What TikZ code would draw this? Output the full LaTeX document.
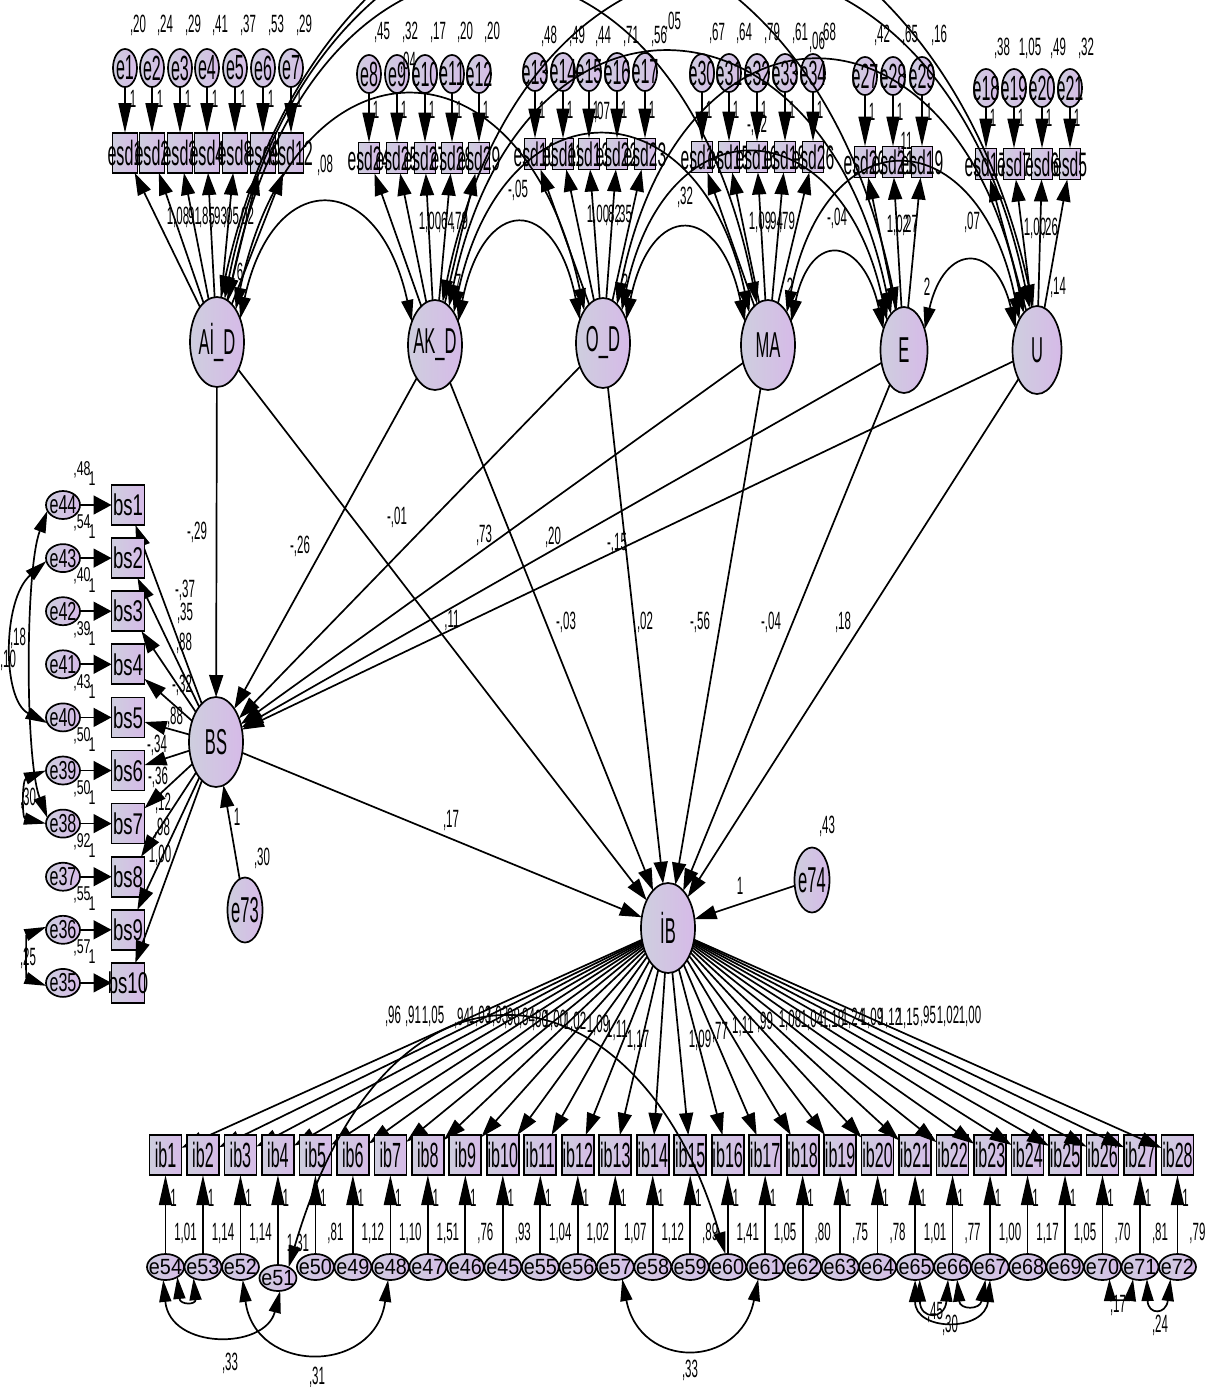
\documentclass[tikz,border=0pt]{standalone}
\usepackage{fontspec}
\usetikzlibrary{shapes.geometric,arrows.meta}
\newfontfamily\fa[FakeStretch=0.46]{Liberation Sans}
\newfontfamily\fb[FakeStretch=0.62]{Liberation Sans}
\newfontfamily\fc[FakeStretch=0.9]{Liberation Sans}
\newcommand\zb[1]{\makebox[0pt]{#1}}
\definecolor{nfl}{RGB}{206,206,222}
\definecolor{nfr}{RGB}{214,186,232}
\tikzset{
 base/.style={draw=black,line width=1.7pt,left color=nfl,right color=nfr,inner sep=0pt,outer sep=0pt},
 lat/.style={base,ellipse,minimum width=54pt,minimum height=90pt,font=\fa\fontsize{36}{36}\selectfont},
 etop/.style={base,ellipse,minimum width=24pt,minimum height=38pt,font=\fa\fontsize{35}{35}\selectfont},
 ebig/.style={base,ellipse,minimum width=35pt,minimum height=65pt,font=\fa\fontsize{36}{36}\selectfont},
 esdA/.style={base,rectangle,minimum width=25pt,minimum height=40pt,font=\fa\fontsize{35}{35}\selectfont},
 esdB/.style={base,rectangle,minimum width=21pt,minimum height=31pt,font=\fa\fontsize{34}{34}\selectfont},
 bsbox/.style={base,rectangle,minimum width=33pt,minimum height=40pt,font=\fb\fontsize{30}{30}\selectfont},
 ebs/.style={base,ellipse,minimum width=34pt,minimum height=28pt,font=\fb\fontsize{26}{26}\selectfont},
 ibbox/.style={base,rectangle,minimum width=32pt,minimum height=40pt,font=\fa\fontsize{35}{35}\selectfont},
 ebot/.style={base,ellipse,minimum width=37pt,minimum height=26pt,font=\fc\fontsize{22}{22}\selectfont},
 num/.style={inner sep=0pt,font=\fa\fontsize{25}{25}\selectfont},
 numb/.style={inner sep=0pt,font=\fb\fontsize{20}{20}\selectfont},
 ln/.style={line width=1.7pt},
 arr/.style={ln,-{Triangle[length=22pt,width=14pt]}},
 arrv/.style={ln,-{Triangle[length=30pt,width=13pt]}},
 arrh/.style={ln,-{Triangle[length=18pt,width=19pt]}},
 cov/.style={ln,{Triangle[length=22pt,width=12pt]}-{Triangle[length=22pt,width=12pt]}},
}
\begin{document}
\begin{tikzpicture}[x=1pt,y=-1pt]
\useasboundingbox (0,0) rectangle (1210,1387);
% ---------- latent variables
\node[lat] (AI) at (217,342) {\zb{Aİ\_D}};
\node[lat] (AK) at (435,345) {\zb{AK\_D}};
\node[lat] (OD) at (603,343) {\zb{O\_D}};
\node[lat] (MA) at (768,345) {\zb{MA}};
\node[lat,minimum width=47pt,minimum height=86pt] (E) at (904,350) {\zb{E}};
\node[lat,minimum width=49pt,minimum height=88pt] (U) at (1037,350) {\zb{U}};
\node[lat] (BS) at (216,742) {\zb{BS}};
\node[lat] (IB) at (668,928) {\zb{İB}};
\node[ebig] (e73) at (245,910) {\zb{e73}};
\node[ebig] (e74) at (812,880) {\zb{e74}};
% ---------- top indicators
\foreach \i/\x/\v/\nm in {1/125/{,20}/esd1,2/152/{,24}/esd2,3/180/{,29}/esd3,4/207/{,41}/esd4,5/235/{,37}/esd8,6/263/{,53}/esd9,7/291/{,29}/esd12}{
  \node[etop] (e\i) at (\x,68) {\zb{e\i}};
  \node[esdA] (s\i) at (\x,153) {\zb{\nm}};
  \draw[arrv] (e\i) -- (s\i);
  \draw[arr] (AI) -- (s\i);
  \node[num] at (\x+13,25) {\v};
  \node[num] at (\x+8,99) {1};
}
\foreach \i/\x/\v/\nm in {8/369/{,45}/esd24,9/397/{,32}/esd25,10/425/{,17}/esd27,11/452/{,20}/esd28,12/479/{,20}/esd29}{
  \node[etop] (e\i) at (\x,74) {\zb{e\i}};
  \node[esdB] (s\i) at (\x,158) {\zb{\nm}};
  \draw[arrv] (e\i) -- (s\i);
  \draw[arr] (AK) -- (s\i);
  \node[num] at (\x+13,32) {\v};
  \node[num] at (\x+7,110) {1};
}
\foreach \i/\x/\v/\nm in {13/535/{,48}/esd10,14/563/{,49}/esd11,15/589/{,44}/esd13,16/617/{,71}/esd22,17/645/{,56}/esd23}{
  \node[etop] (e\i) at (\x,72) {\zb{e\i}};
  \node[esdB] (s\i) at (\x,154) {\zb{\nm}};
  \draw[arrv] (e\i) -- (s\i);
  \draw[arr] (OD) -- (s\i);
  \node[num] at (\x+14,36) {\v};
  \node[num] at (\x+7,110) {1};
}
\foreach \i/\x/\v/\nm in {30/702/{,67}/esd14,31/729/{,64}/esd15,32/757/{,79}/esd16,33/785/{,61}/esd18,34/813/{,68}/esd26}{
  \node[etop] (e\i) at (\x,73) {\zb{e\i}};
  \node[esdB] (s\i) at (\x,157) {\zb{\nm}};
  \draw[arrv] (e\i) -- (s\i);
  \draw[arr] (MA) -- (s\i);
  \node[num] at (\x+15,33) {\v};
  \node[num] at (\x+7,110) {1};
}
\foreach \i/\x/\v/\nm in {27/865/{,42}/esd20,28/893/{,65}/esd21,29/922/{,16}/esd19}{
  \node[etop] (e\i) at (\x,76) {\zb{e\i}};
  \node[esdB] (s\i) at (\x,162) {\zb{\nm}};
  \draw[arrv] (e\i) -- (s\i);
  \draw[arr] (E) -- (s\i);
  \node[num] at (\x+17,35) {\v};
  \node[num] at (\x+7,112) {1};
}
\foreach \i/\x/\v/\nm in {18/986/{,38}/esd17,19/1014/{1,05}/esd7,20/1042/{,49}/esd6,21/1070/{,32}/esd5}{
  \node[etop] (e\i) at (\x,88) {\zb{e\i}};
  \node[esdB] (s\i) at (\x,164) {\zb{\nm}};
  \draw[arrv] (e\i) -- (s\i);
  \draw[arr] (U) -- (s\i);
  \node[num] at (\x+16,48) {\v};
  \node[num] at (\x+7,118) {1};
}
% ---------- covariances among latents
\draw[cov] (AI.45) .. controls +(33,-153) and +(-33,-153) .. (AK.135);
\draw[cov] (AK.45) .. controls +(25,-127) and +(-25,-127) .. (OD.135);
\draw[cov] (OD.45) .. controls +(25,-120) and +(-25,-120) .. (MA.135);
\draw[cov] (MA.45) .. controls +(20,-93) and +(-20,-93) .. (E.135);
\draw[cov] (E.45) .. controls +(20,-87) and +(-20,-87) .. (U.135);
\draw[cov] (AI.60) .. controls +(60,-283) and +(-60,-283) .. (OD.120);
\draw[cov] (AK.60) .. controls +(50,-233) and +(-50,-233) .. (MA.120);
\draw[cov] (OD.60) .. controls +(45,-213) and +(-45,-213) .. (E.120);
\draw[cov] (MA.60) .. controls +(40,-200) and +(-40,-200) .. (U.120);
\draw[cov] (AK.70) .. controls +(70,-340) and +(-70,-340) .. (E.110);
\draw[cov] (OD.70) .. controls +(65,-327) and +(-65,-327) .. (U.110);
\draw[cov] (AI.75) .. controls +(85,-427) and +(-85,-427) .. (MA.105);
\draw[cov] (AI.80) .. controls +(100,-493) and +(-100,-493) .. (E.100);
\draw[cov] (AI.85) .. controls +(120,-547) and +(-120,-547) .. (U.95);
\draw[cov] (AK.80) .. controls +(90,-440) and +(-90,-440) .. (U.100);
% ---------- structural paths
\foreach \a in {AI,AK,OD,MA,E,U}{
  \draw[arr] (\a) -- (BS);
  \draw[arr] (\a) -- (IB);
}
\draw[arr] (BS) -- (IB);
\draw[arr] (e73) -- (BS);
\draw[arr] (e74) -- (IB);
% ---------- BS indicators
\foreach \i/\en/\v in {1/44/{,48},2/43/{,54},3/42/{,40},4/41/{,39},5/40/{,43},6/39/{,50},7/38/{,50},8/37/{,92},9/36/{,55},10/35/{,57}}{
  \pgfmathsetmacro\yy{505+53.1*(\i-1)}
  \node[bsbox] (bs\i) at (128,\yy) {\zb{bs\i}};
  \node[ebs] (e\en) at (63,\yy) {\zb{e\en}};
  \draw[arrh] (e\en) -- (bs\i);
  \draw[arr] (BS) -- (bs\i);
  \node[numb] at (82,\yy-35) {\v};
  \node[numb] at (92,\yy-26) {1};
}
\draw[cov] (e44.200) .. controls (25,570) and (25,760) .. (e38.160);
\draw[cov] (e43.190) .. controls (2,600) and (2,700) .. (e40.200);
\draw[cov] (e39.180) .. controls (22,780) and (22,818) .. (e38.180);
\draw[cov] (e36.170) .. controls (26,935) and (26,978) .. (e35.190);
% ---------- IB indicators
\foreach \i/\en/\v/\ey in {1/54/{1,01}/1267,2/53/{1,14}/1267,3/52/{1,14}/1267,4/51/{1,31}/1278,5/50/{,81}/1267,6/49/{1,12}/1267,7/48/{1,10}/1267,8/47/{1,51}/1267,9/46/{,76}/1267,10/45/{,93}/1267,11/55/{1,04}/1267,12/56/{1,02}/1267,13/57/{1,07}/1267,14/58/{1,12}/1267,15/59/{,89}/1267,16/60/{1,41}/1267,17/61/{1,05}/1267,18/62/{,80}/1267,19/63/{,75}/1267,20/64/{,78}/1267,21/65/{1,01}/1267,22/66/{,77}/1267,23/67/{1,00}/1267,24/68/{1,17}/1267,25/69/{1,05}/1267,26/70/{,70}/1267,27/71/{,81}/1267,28/72/{,79}/1267}{
  \pgfmathsetmacro\xx{165.5+37.48*(\i-1)}
  \node[ibbox] (ib\i) at (\xx,1155) {\zb{ib\i}};
  \node[ebot] (e\en) at (\xx,\ey) {\zb{e\en}};
  \draw[arrv] (e\en) -- (ib\i);
  \draw[arr] (IB) -- (ib\i);
  \node[num] at (\xx+20,\ey-34) {\v};
  \node[num] at (\xx+8,1198) {1};
}
\draw[cov] (e54.-100) .. controls (170,1350) and (265,1350) .. (e51.-80);
\draw[cov] (e54.-40) .. controls (180,1305) and (196,1305) .. (e53.-130);
\draw[cov] (e52.-80) .. controls (255,1375) and (375,1375) .. (e48.-100);
\draw[cov] (e51.45) .. controls (390,920) and (640,960) .. (e60.100);
\draw[cov] (e57.-60) .. controls (640,1370) and (740,1370) .. (e61.-120);
\draw[cov] (e65.-70) .. controls (920,1320) and (945,1320) .. (e66.-110);
\draw[cov] (e66.-70) .. controls (960,1310) and (980,1310) .. (e67.-110);
\draw[cov] (e65.-90) .. controls (915,1332) and (985,1332) .. (e67.-90);
\draw[cov] (e70.-60) .. controls (1110,1300) and (1130,1300) .. (e71.-120);
\draw[cov] (e71.-60) .. controls (1148,1315) and (1166,1315) .. (e72.-120);
% ---------- labels
\foreach \x/\y/\t in {178/217/{1,08},193/217/{,91},207/217/{,85},219/217/{,93},231/217/{,05},246/217/{,02},
  430/222/{1,00},446/222/{,64},460/222/{,79},598/215/{1,00},613/215/{,82},624/215/{,35},
  760/222/{1,09},775/222/{,94},787/222/{,79},898/225/{1,02},910/225/{,27},1035/228/{1,00},1050/228/{,26},
  325/165/{,08},518/190/{-,05},685/197/{,32},837/218/{-,04},972/222/{,07},
  408/62/{,04},602/112/{,07},673/22/{,05},817/42/{,06},757/125/{-,12},905/142/{,11},
  240/272/{6},458/283/{7},625/283/{2},790/287/{2},927/287/{2},1058/287/{,14},
  197/532/{-,29},452/620/{,11},300/546/{-,26},566/622/{-,03},397/517/{-,01},645/622/{,02},
  484/535/{,73},700/622/{-,56},553/537/{,20},771/622/{-,04},617/543/{-,15},843/622/{,18},
  451/820/{,17},740/886/{1},827/826/{,43},237/817/{1},262/858/{,30},
  185/590/{-,37},185/613/{,35},184/643/{,88},182/685/{-,32},175/717/{,88},157/745/{-,34},158/777/{-,36},163/803/{,12},162/828/{,98},160/855/{1,00},
  18/638/{,18},8/660/{,10},28/798/{,30},28/958/{,25},
  393/1016/{,96},413/1016/{,91},433/1016/{1,05},462/1018/{,94},480/1016/{1,03},497/1016/{1,03},512/1018/{,98},527/1018/{,84},540/1020/{,80},555/1020/{1,00},575/1022/{1,02},598/1025/{1,09},617/1030/{1,11},638/1040/{1,17},
  700/1040/{1,09},720/1032/{,77},743/1026/{1,11},765/1022/{,99},790/1020/{1,08},812/1020/{1,04},833/1020/{1,18},853/1018/{1,24},872/1018/{1,09},890/1018/{1,12},908/1018/{1,15},928/1016/{,95},948/1016/{1,02},970/1016/{1,00},
  230/1363/{,33},317/1377/{,31},690/1370/{,33},935/1312/{,45},950/1325/{,30},1118/1305/{,17},1160/1325/{,24}}{
  \node[num] at (\x,\y) {\t};
}
\end{tikzpicture}
\end{document}
